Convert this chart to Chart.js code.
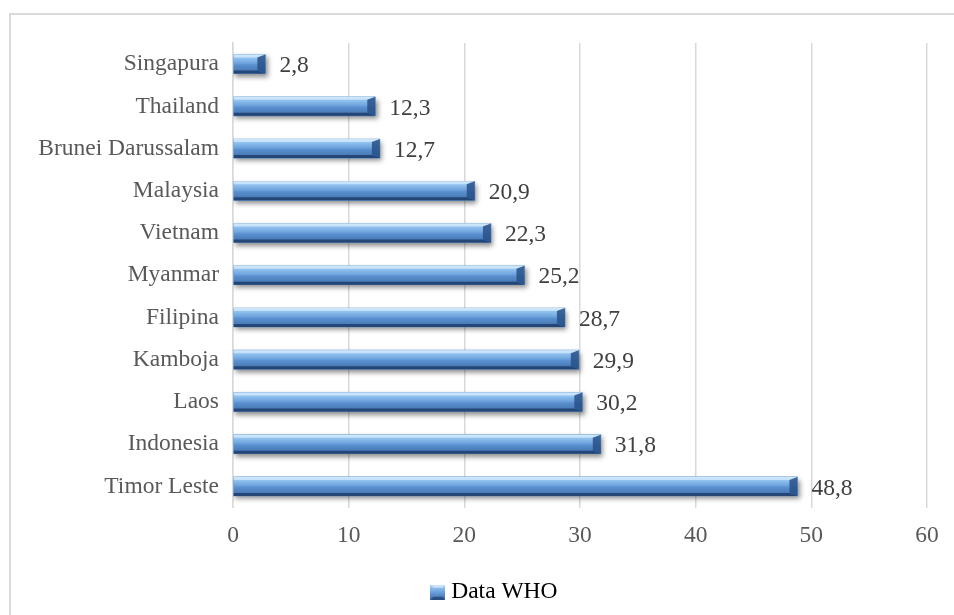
<!DOCTYPE html>
<html>
<head>
<meta charset="utf-8">
<script src="https://cdn.jsdelivr.net/npm/chart.js@4/dist/chart.umd.min.js"></script>
<style>
  html, body { margin: 0; padding: 0; background: #ffffff; }
  #wrap { width: 954px; height: 615px; position: relative; }
</style>
</head>
<body>
<div id="wrap"><canvas id="c" width="954" height="615"></canvas></div>
<script>
const categories = ["Singapura", "Thailand", "Brunei Darussalam", "Malaysia", "Vietnam", "Myanmar", "Filipina", "Kamboja", "Laos", "Indonesia", "Timor Leste"];
const values = [2.8, 12.3, 12.7, 20.9, 22.3, 25.2, 28.7, 29.9, 30.2, 31.8, 48.8];
const seriesName = "Data WHO";
const xTicks = [0, 10, 20, 30, 40, 50, 60];

const FONT = "Liberation Serif, Times New Roman, serif";
const FS = 23.5;

function legendImage() {
  const c = document.createElement('canvas');
  c.width = 15; c.height = 15;
  const x = c.getContext('2d');
  const g = x.createLinearGradient(0, 0, 0, 15);
  g.addColorStop(0, '#a9d0f5');
  g.addColorStop(0.5, '#6aa0dc');
  g.addColorStop(1, '#3d6ea9');
  x.fillStyle = g;
  x.fillRect(0, 0, 15, 15);
  x.fillStyle = 'rgba(35,70,120,0.8)';
  x.beginPath(); x.moveTo(0, 15); x.lineTo(15, 15); x.lineTo(12, 12); x.lineTo(3, 12); x.closePath(); x.fill();
  x.fillStyle = 'rgba(215,235,255,0.8)';
  x.beginPath(); x.moveTo(0, 0); x.lineTo(15, 0); x.lineTo(12, 3); x.lineTo(3, 3); x.closePath(); x.fill();
  return c;
}
const LEGEND_IMG = legendImage();

const framePlugin = {
  id: 'frame',
  beforeDraw(chart) {
    const ctx = chart.ctx;
    ctx.save();
    ctx.fillStyle = '#ffffff';
    ctx.fillRect(0, 0, chart.width, chart.height);
    ctx.strokeStyle = '#d9d9d9';
    ctx.lineWidth = 2;
    ctx.strokeRect(10, 14, 1000, 700);
    ctx.restore();
  },
  afterLayout(chart) {
    if (chart.legend) {
      chart.legend.left += 18;
      chart.legend.right += 18;
    }
  }
};

const bevelPlugin = {
  id: 'bevel',
  beforeDatasetsDraw(chart) {
    const ctx = chart.ctx;
    ctx.save();
    ctx.shadowColor = 'rgba(0,0,0,0.45)';
    ctx.shadowBlur = 5;
    ctx.shadowOffsetX = 2;
    ctx.shadowOffsetY = 3;
  },
  afterDatasetsDraw(chart) {
    const ctx = chart.ctx;
    ctx.restore();
    ctx.save();
    const meta = chart.getDatasetMeta(0);
    meta.data.forEach((el, i) => {
      const p = el.getProps(['x', 'y', 'base', 'height'], true);
      const left = Math.min(p.base, p.x), right = Math.max(p.base, p.x);
      const top = p.y - p.height / 2, bottom = p.y + p.height / 2;
      const g = ctx.createLinearGradient(0, top, 0, bottom);
      g.addColorStop(0, '#b7daf8');
      g.addColorStop(0.18, '#92c2ef');
      g.addColorStop(0.45, '#6ea4de');
      g.addColorStop(0.55, '#5a90cf');
      g.addColorStop(1, '#3f70ab');
      ctx.fillStyle = g;
      ctx.fillRect(left, top, right - left, bottom - top);
      const b = 3, br = Math.min(8, (right - left) / 3);
      // top bevel
      ctx.fillStyle = 'rgba(225,242,255,0.6)';
      ctx.beginPath();
      ctx.moveTo(left, top); ctx.lineTo(right, top); ctx.lineTo(right - br, top + b); ctx.lineTo(left, top + b); ctx.closePath(); ctx.fill();
      // bottom bevel
      ctx.fillStyle = 'rgba(32,65,112,0.9)';
      ctx.beginPath();
      ctx.moveTo(left, bottom); ctx.lineTo(right, bottom); ctx.lineTo(right - br, bottom - b); ctx.lineTo(left, bottom - b); ctx.closePath(); ctx.fill();
      // right bevel
      ctx.fillStyle = 'rgba(40,80,135,0.85)';
      ctx.beginPath();
      ctx.moveTo(right, top); ctx.lineTo(right, bottom); ctx.lineTo(right - br, bottom - b); ctx.lineTo(right - br, top + b); ctx.closePath(); ctx.fill();
      // data label
      ctx.fillStyle = '#404040';
      ctx.font = FS + 'px ' + FONT;
      ctx.textAlign = 'left';
      ctx.textBaseline = 'middle';
      ctx.fillText(String(values[i]).replace('.', ','), right + 14, p.y + 2);
    });
    ctx.restore();
  }
};

new Chart(document.getElementById('c'), {
  type: 'bar',
  data: {
    labels: categories,
    datasets: [{
      label: seriesName,
      data: values,
      backgroundColor: '#5b93d0',
      borderWidth: 0,
      barThickness: 19
    }]
  },
  options: {
    indexAxis: 'y',
    responsive: false,
    animation: false,
    devicePixelRatio: 1,
    layout: { padding: { left: 31, right: 27, top: 43, bottom: 1 } },
    scales: {
      x: {
        min: 0, max: 60,
        afterBuildTicks(scale) { scale.ticks = xTicks.map(v => ({ value: v })); },
        grid: { color: '#d9d9d9', lineWidth: 1.5, drawTicks: false },
        border: { display: false },
        ticks: { color: '#595959', font: { family: FONT, size: FS }, padding: 14, maxRotation: 0 },
        afterFit(scale) { scale.height = 63; }
      },
      y: {
        grid: { display: false, drawTicks: false },
        border: { display: true, color: '#d9d9d9', width: 1.5 },
        ticks: { color: '#595959', font: { family: FONT, size: FS }, padding: 14, autoSkip: false },
        afterFit(scale) { scale.width = 202; }
      }
    },
    plugins: {
      legend: {
        position: 'bottom',
        labels: {
          color: '#595959',
          font: { family: FONT, size: FS },
          usePointStyle: true,
          boxWidth: 3, boxHeight: 3,
          padding: 10,
          generateLabels(chart) {
            return [{ text: seriesName, pointStyle: LEGEND_IMG, fillStyle: '#4f86c6', strokeStyle: '#3a6aa2', lineWidth: 0, datasetIndex: 0 }];
          }
        }
      },
      tooltip: { enabled: false }
    }
  },
  plugins: [framePlugin, bevelPlugin]
});
</script>
</body>
</html>
